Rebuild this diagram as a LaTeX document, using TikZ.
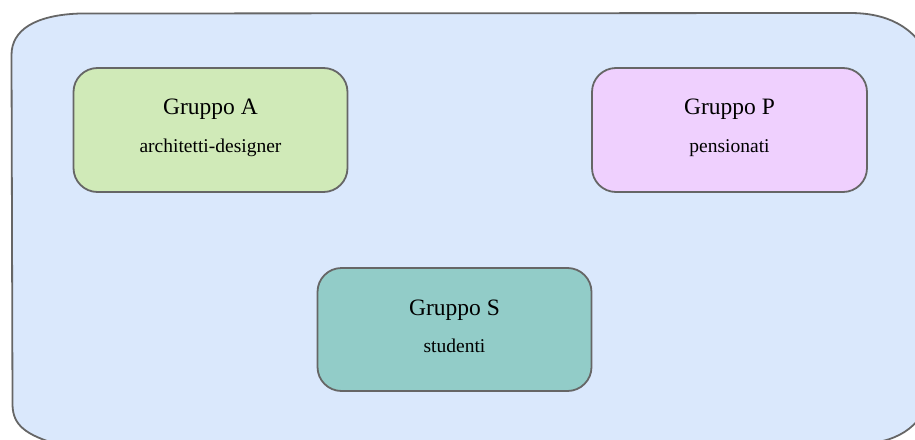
\documentclass[tikz,border=0pt]{standalone}
\usepackage{fontspec}
\setmainfont{Liberation Serif}
\definecolor{outerfill}{HTML}{DAE8FC}
\definecolor{edgegray}{HTML}{666666}
\definecolor{greenfill}{HTML}{D0EAB8}
\definecolor{purplefill}{HTML}{EFD0FE}
\definecolor{tealfill}{HTML}{92CCC8}
\begin{document}
\begin{tikzpicture}[x=1pt,y=-1pt,
  groupbox/.style={draw=edgegray,line width=1.8pt,rounded corners=24pt,
    minimum width=274pt,minimum height=124pt,inner sep=0pt,outer sep=0pt},
  titletext/.style={anchor=base,inner sep=0pt,font=\fontsize{23.5}{26}\selectfont},
  subtext/.style={anchor=base,inner sep=0pt,font=\fontsize{19.5}{22}\selectfont}]
\useasboundingbox (0,0) rectangle (915,439);
\clip (0,0) rectangle (915,439);
% large rounded container, running past the lower and right borders
\path[draw=edgegray,fill=outerfill,line width=1.8pt]
  (80,13.5) -- (850,13)
  .. controls (885,13) and (915,25) .. (930,60)
  -- (930,385)
  .. controls (930,418) and (905,440) .. (870,443)
  -- (60,445)
  .. controls (25,435) and (13,425) .. (12.5,405)
  -- (11.5,55)
  .. controls (11.5,30) and (35,15) .. (80,13.5) -- cycle;
% groups
\node[groupbox,fill=greenfill]  (ga) at (210.5,130) {};
\node[groupbox,fill=purplefill,minimum width=275pt] (gp) at (729.5,130) {};
\node[groupbox,fill=tealfill,minimum height=123pt]  (gs) at (454.5,329.5) {};
% labels
\node[titletext] (ga-title) at (ga.center |- 0,114) {Gruppo A};
\node[subtext]   (ga-sub)   at (ga.center |- 0,152) {architetti-designer};
\node[titletext] (gp-title) at (gp.center |- 0,114) {Gruppo P};
\node[subtext]   (gp-sub)   at (gp.center |- 0,152) {pensionati};
\node[titletext] (gs-title) at (gs.center |- 0,315) {Gruppo S};
\node[subtext]   (gs-sub)   at (gs.center |- 0,352) {studenti};
\end{tikzpicture}
\end{document}
